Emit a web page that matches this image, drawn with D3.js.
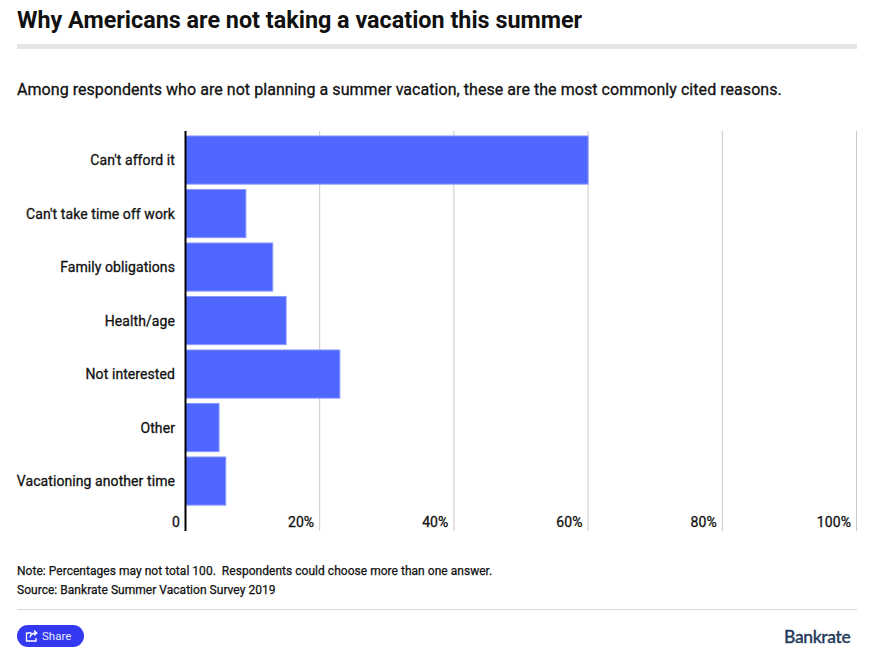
<!DOCTYPE html>
<html>
<head>
<meta charset="utf-8">
<script src="https://cdn.jsdelivr.net/npm/d3@7"></script>
<style>
  html, body { margin: 0; padding: 0; background: #fff; }
  text { font-family: Roboto, sans-serif; fill: #111; }
</style>
</head>
<body>
<script>
const categories = ["Can't afford it", "Can't take time off work", "Family obligations", "Health/age", "Not interested", "Other", "Vacationing another time"];
const values = [60, 9, 13, 15, 23, 5, 6];
const ticks = [0, 20, 40, 60, 80, 100];
const notes = ["Note: Percentages may not total 100.  Respondents could choose more than one answer.", "Source: Bankrate Summer Vacation Survey 2019"];

const width = 877, height = 665;

const svg = d3.select("body").append("svg")
    .attr("width", width)
    .attr("height", height)
    .style("display", "block");

// header
svg.append("text")
    .attr("x", 17).attr("y", 28)
    .attr("font-size", 23.37).attr("font-weight", 700)
    .text("Why Americans are not taking a vacation this summer");
svg.append("rect")
    .attr("x", 17).attr("y", 44).attr("width", 840).attr("height", 5)
    .attr("fill", "#e6e6e6");
svg.append("text")
    .attr("x", 17).attr("y", 95)
    .attr("font-size", 16).attr("font-weight", 400)
    .attr("letter-spacing", 0.05)
    .attr("stroke", "#111").attr("stroke-width", 0.3)
    .text("Among respondents who are not planning a summer vacation, these are the most commonly cited reasons.");

const x = d3.scaleLinear().domain([0, 100]).range([185.5, 856.5]);
const y = d3.scaleBand().domain(categories).range([133.3, 507.8]).paddingInner(0.1).paddingOuter(0.05);

// gridlines
svg.selectAll("line.grid")
  .data(ticks.slice(1))
  .join("line")
    .attr("class", "grid")
    .attr("x1", d => x(d)).attr("x2", d => x(d))
    .attr("y1", 131).attr("y2", 531)
    .attr("stroke", "#c8c8c8");

svg.selectAll("rect.bar")
  .data(values)
  .join("rect")
    .attr("class", "bar")
    .attr("x", x(0))
    .attr("y", (d, i) => y(categories[i]))
    .attr("width", d => x(d) - x(0))
    .attr("height", y.bandwidth())
    .attr("fill", "#4f66ff")
    .attr("stroke", "#8a99ff")
    .attr("stroke-width", 1);

svg.append("line")
    .attr("x1", x(0)).attr("x2", x(0))
    .attr("y1", 131).attr("y2", 531)
    .attr("stroke", "#000").attr("stroke-width", 2);

// category labels
svg.selectAll("text.cat")
  .data(categories)
  .join("text")
    .attr("class", "cat")
    .attr("x", 175)
    .attr("y", d => y(d) + y.bandwidth() / 2 + 5)
    .attr("text-anchor", "end")
    .attr("font-size", 14).attr("font-weight", 400)
    .attr("letter-spacing", 0.08)
    .attr("stroke", "#111").attr("stroke-width", 0.3)
    .text(d => d);

// tick labels sit left of their gridline
svg.selectAll("text.tick")
  .data(ticks)
  .join("text")
    .attr("class", "tick")
    .attr("x", d => x(d) - 5.5)
    .attr("y", 527)
    .attr("text-anchor", "end")
    .attr("font-size", 14).attr("font-weight", 400)
    .attr("letter-spacing", 0.08)
    .attr("stroke", "#111").attr("stroke-width", 0.3)
    .text(d => d === 0 ? "0" : d + "%");

// footer
svg.selectAll("text.note")
  .data(notes)
  .join("text")
    .attr("class", "note")
    .attr("x", 17)
    .attr("y", (d, i) => 575 + i * 19)
    .attr("font-size", 12).attr("font-weight", 400)
    .attr("letter-spacing", 0.03)
    .attr("stroke", "#111").attr("stroke-width", 0.25)
    .style("white-space", "pre")
    .text(d => d);
svg.append("line")
    .attr("x1", 17).attr("x2", 857)
    .attr("y1", 609.5).attr("y2", 609.5)
    .attr("stroke", "#d9d9d9");

// share button
svg.append("rect")
    .attr("x", 17).attr("y", 625).attr("width", 67).attr("height", 22).attr("rx", 11)
    .attr("fill", "#3239f0");
svg.append("path")
    .attr("d", "M31.5 633h-5v8h9.5v-3 M30 637.5c.5-3 3-4.5 6-4.5 M34 630.5l2.8 2.5-2.8 2.5")
    .attr("fill", "none").attr("stroke", "#fff").attr("stroke-width", 1.3);
svg.append("text")
    .attr("x", 42).attr("y", 639.5)
    .attr("font-size", 11.5)
    .style("fill", "#e8e9ff")
    .text("Share");

// wordmark
svg.append("text")
    .attr("x", 784).attr("y", 643)
    .attr("font-size", 17.5)
    .attr("font-weight", 500)
    .attr("letter-spacing", -0.35)
    .style("font-family", "Lato, sans-serif")
    .style("fill", "#24395b")
    .attr("stroke", "#24395b").attr("stroke-width", 0.3)
    .text("Bankrate");
</script>
</body>
</html>
